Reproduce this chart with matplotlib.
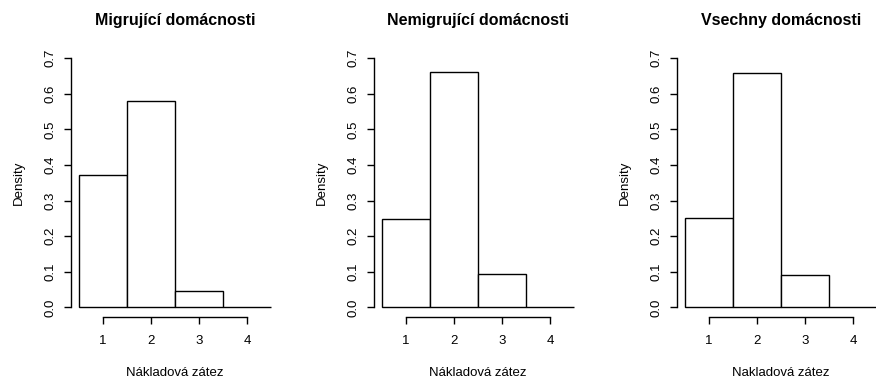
import matplotlib
matplotlib.use("Agg")
import matplotlib.pyplot as plt

# histogram bins (Nákladová zátez), density per bin
bin_edges = [0.5, 1.5, 2.5, 3.5, 4.5]
titles = ["Migrující domácnosti", "Nemigrující domácnosti", "Vsechny domácnosti"]
xlabels = ["Nákladová zátez", "Nákladová zátez", "Nakladová zátez"]
migr_density = [0.373, 0.581, 0.046, 0.0]
nemigr_density = [0.247, 0.661, 0.093, 0.0]
all_density = [0.250, 0.659, 0.091, 0.0]
x_ticks = [1, 2, 3, 4]
y_ticks = [0.0, 0.1, 0.2, 0.3, 0.4, 0.5, 0.6, 0.7]

plt.rcParams['font.family'] = ['Liberation Sans', 'DejaVu Sans']

W, H = 876, 385
fig = plt.figure(figsize=(W / 100, H / 100), dpi=100)

panel_left = [71.3, 374.3, 677.3]  # pixels
pw = 207.4
bottom_px, top_px = 317.3, 48.3

for left, title, xlab, dens in zip(panel_left, titles, xlabels,
                                   [migr_density, nemigr_density, all_density]):
    ax = fig.add_axes([left / W, (H - bottom_px) / H, pw / W, (bottom_px - top_px) / H])
    widths = [b - a for a, b in zip(bin_edges[:-1], bin_edges[1:])]
    ax.bar(bin_edges[:-1], dens, width=widths, align='edge',
           color='white', edgecolor='black', linewidth=1.0)
    ax.set_xlim(0.34, 4.66)
    ax.set_ylim(-0.028, 0.728)
    for s in ['top', 'right']:
        ax.spines[s].set_visible(False)
    ax.spines['left'].set_bounds(0, 0.7)
    ax.spines['bottom'].set_bounds(1, 4)
    ax.spines['left'].set_linewidth(1.0)
    ax.spines['bottom'].set_linewidth(1.0)
    ax.set_xticks(x_ticks)
    ax.set_yticks(y_ticks)
    ax.set_yticklabels([f"{v:.1f}" for v in y_ticks], rotation=90, va='center')
    ax.tick_params(length=5, width=1.0, labelsize=9.5)
    ax.tick_params(axis='x', pad=8)
    ax.tick_params(axis='y', pad=6)
    ax.set_title(title, fontsize=11.5, fontweight='bold', pad=17)
    ax.set_xlabel(xlab, fontsize=9.5, labelpad=14)
    ax.set_ylabel("Density", fontsize=9.5, labelpad=14)

fig.savefig("out.png", dpi=100)
